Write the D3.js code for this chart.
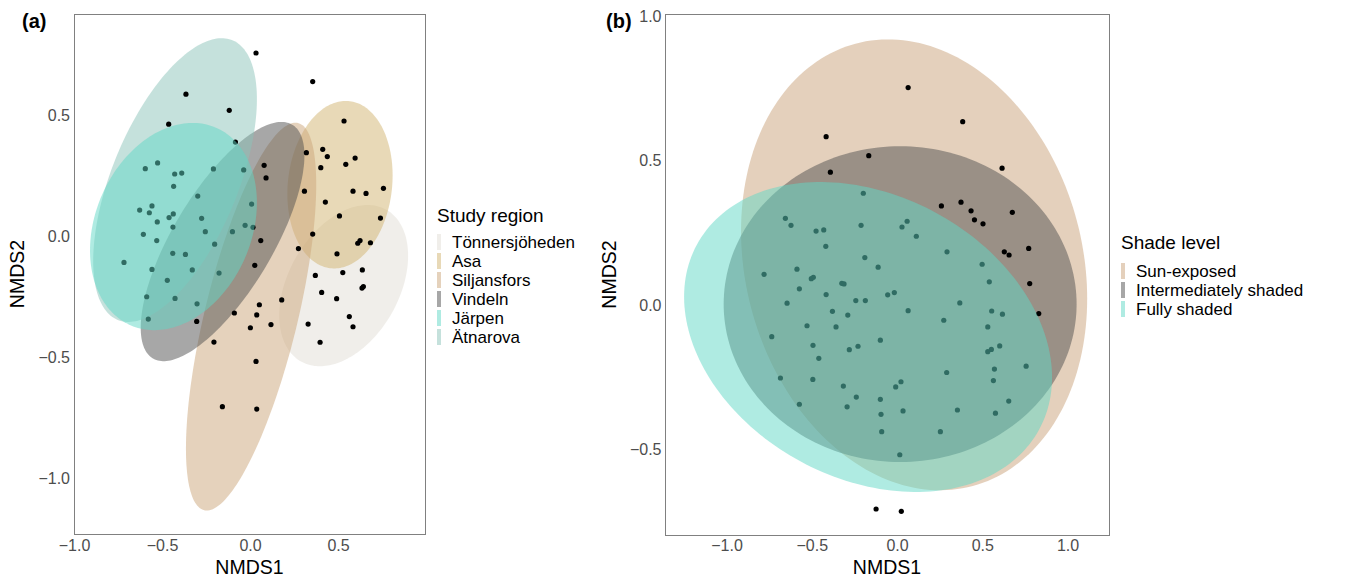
<!DOCTYPE html>
<html>
<head>
<meta charset="utf-8">
<script src="https://cdn.jsdelivr.net/npm/d3@7"></script>
<style>
  html, body { margin: 0; padding: 0; background: #fff; }
  svg { display: block; font-family: "Liberation Sans", Arial, sans-serif; }
</style>
</head>
<body>
<svg id="chart" width="1346" height="579"></svg>
<script>
// ---------------- DATA ----------------
// Panel (a): study regions
const regionNames  = ["Tönnersjöheden", "Asa", "Siljansfors", "Vindeln", "Järpen", "Ätnarova"];
const regionColors = ["#e1ddd5", "#d1b36f", "#cba579", "#505050", "#5fd8c6", "#8bc3b9"];
// ellipse parameters (data units): centre, half-extent in x / y, correlation
const regionCx = [0.532, 0.511, 0.006, -0.156, -0.435, -0.426];
const regionCy = [-0.205, 0.212, -0.333, -0.023, 0.039, 0.231];
const regionSx = [0.366, 0.299, 0.370, 0.465, 0.474, 0.465];
const regionSy = [0.333, 0.346, 0.801, 0.494, 0.428, 0.586];
const regionR  = [0.37, 0.11, 0.68, 0.72, 0.23, 0.57];

const pointsA_x = [0.034, 0.356, -0.364, -0.118, -0.462, -0.083, 0.534, 0.320, 0.413, 0.439,
  0.402, 0.544, 0.597, 0.080, 0.091, -0.595, -0.525, -0.428, -0.388, -0.208,
  -0.036, -0.434, -0.297, 0.309, 0.585, 0.659, 0.758, 0.428, 0.009, -0.627,
  -0.557, -0.572, -0.436, -0.460, -0.527, -0.438, -0.275, 0.508, 0.741, -0.606,
  -0.254, -0.100, -0.028, 0.017, 0.356, -0.530, -0.201, 0.061, 0.612, 0.625,
  0.684, 0.275, -0.439, -0.367, 0.494, -0.716, 0.027, -0.557, -0.328, -0.176,
  0.371, 0.527, 0.638, -0.470, 0.636, 0.644, 0.407, 0.492, -0.587, -0.426,
  0.180, -0.301, 0.053, -0.089, 0.038, -0.578, -0.303, 0.119, 0.002, 0.330,
  0.564, 0.585, -0.205, 0.398, 0.034, -0.157, 0.038];
const pointsA_y = [0.756, 0.638, 0.586, 0.519, 0.462, 0.388, 0.475, 0.344, 0.358, 0.328,
  0.282, 0.296, 0.322, 0.292, 0.240, 0.278, 0.302, 0.256, 0.260, 0.277,
  0.273, 0.205, 0.165, 0.185, 0.185, 0.176, 0.197, 0.140, 0.132, 0.107,
  0.124, 0.096, 0.091, 0.076, 0.058, 0.037, 0.073, 0.083, 0.074, 0.007,
  0.018, 0.018, 0.044, 0.036, 0.008, -0.019, -0.034, -0.019, -0.030, -0.019,
  -0.028, -0.052, -0.072, -0.076, -0.074, -0.109, -0.121, -0.138, -0.140, -0.153,
  -0.163, -0.151, -0.140, -0.183, -0.215, -0.209, -0.233, -0.259, -0.251, -0.258,
  -0.264, -0.280, -0.284, -0.318, -0.326, -0.343, -0.353, -0.366, -0.379, -0.364,
  -0.333, -0.375, -0.438, -0.439, -0.518, -0.705, -0.715];

// Panel (b): shade levels
const shadeNames  = ["Sun-exposed", "Intermediately shaded", "Fully shaded"];
const shadeColors = ["#c9a27a", "#505050", "#5fd8c6"];
const shadeCx = [0.100, 0.018, -0.170];
const shadeCy = [0.139, 0.003, -0.111];
const shadeSx = [1.015, 1.035, 1.079];
const shadeSy = [0.781, 0.547, 0.537];
const shadeR  = [-0.15, 0.0, -0.26];

const pointsB_x = [0.065, 0.385, -0.416, -0.166, -0.391, 0.616, -0.198, 0.260, 0.375, 0.434,
  0.454, 0.504, 0.676, -0.655, -0.622, -0.475, -0.430, -0.211, 0.029, 0.059,
  0.113, -0.418, -0.189, 0.293, 0.629, 0.657, 0.772, -0.111, -0.587, -0.780,
  0.499, -0.503, -0.491, -0.324, -0.311, 0.541, 0.778, -0.573, -0.416, -0.055,
  -0.016, -0.242, -0.186, -0.645, 0.368, 0.831, -0.379, -0.289, 0.065, 0.555,
  0.618, 0.274, -0.528, -0.358, 0.532, -0.735, -0.098, -0.493, -0.280, -0.229,
  0.532, 0.553, 0.602, -0.459, 0.291, 0.571, 0.757, -0.684, -0.494, 0.565,
  -0.315, -0.008, 0.023, -0.239, -0.098, -0.573, -0.293, 0.655, 0.354, 0.035,
  -0.094, 0.577, -0.090, 0.254, 0.016, -0.123, 0.025];
const pointsB_y = [0.753, 0.635, 0.583, 0.517, 0.460, 0.474, 0.387, 0.343, 0.356, 0.326,
  0.295, 0.281, 0.321, 0.300, 0.276, 0.256, 0.260, 0.276, 0.270, 0.290,
  0.238, 0.203, 0.164, 0.184, 0.184, 0.173, 0.196, 0.131, 0.124, 0.106,
  0.141, 0.091, 0.096, 0.075, 0.073, 0.080, 0.074, 0.056, 0.036, 0.035,
  0.043, 0.015, 0.015, 0.006, 0.007, -0.030, -0.022, -0.035, -0.020, -0.021,
  -0.032, -0.053, -0.072, -0.076, -0.076, -0.110, -0.122, -0.140, -0.155, -0.143,
  -0.162, -0.154, -0.142, -0.185, -0.234, -0.222, -0.212, -0.253, -0.258, -0.262,
  -0.281, -0.284, -0.266, -0.319, -0.327, -0.344, -0.353, -0.333, -0.364, -0.367,
  -0.379, -0.375, -0.439, -0.439, -0.519, -0.707, -0.715];

const ticksA_x = [-1.0, -0.5, 0.0, 0.5];
const ticksA_y = [-1.0, -0.5, 0.0, 0.5];
const ticksB_x = [-1.0, -0.5, 0.0, 0.5, 1.0];
const ticksB_y = [-0.5, 0.0, 0.5, 1.0];

// ---------------- DRAWING ----------------
const svg = d3.select("#chart");
const fmt = d3.format(".1f");
const FILL_ALPHA = 0.5;

function ellipsePath(xs, ys, cx, cy, sx, sy, r) {
  const s = Math.sqrt(1 - r * r);
  const pts = d3.range(0, 200).map(i => {
    const t = i / 200 * 2 * Math.PI;
    return [xs(cx + sx * Math.cos(t)), ys(cy + sy * (r * Math.cos(t) + s * Math.sin(t)))];
  });
  return d3.line().curve(d3.curveLinearClosed)(pts);
}

function panel(cfg) {
  const g = svg.append("g");
  const xs = d3.scaleLinear().domain(cfg.xDomain).range([cfg.left, cfg.right]);
  const ys = d3.scaleLinear().domain(cfg.yDomain).range([cfg.bottom, cfg.top]);
  const clipId = "clip" + cfg.id;
  svg.append("clipPath").attr("id", clipId).append("rect")
    .attr("x", cfg.left).attr("y", cfg.top)
    .attr("width", cfg.right - cfg.left).attr("height", cfg.bottom - cfg.top);
  const plot = g.append("g").attr("clip-path", `url(#${clipId})`);

  cfg.under.forEach(i => {
    plot.append("path")
      .attr("d", ellipsePath(xs, ys, cfg.cx[i], cfg.cy[i], cfg.sx[i], cfg.sy[i], cfg.r[i]))
      .attr("fill", cfg.colors[i]).attr("fill-opacity", FILL_ALPHA);
  });
  plot.append("g").selectAll("circle").data(d3.range(cfg.px.length)).join("circle")
    .attr("cx", i => xs(cfg.px[i])).attr("cy", i => ys(cfg.py[i]))
    .attr("r", 2.6).attr("fill", "#000");
  cfg.over.forEach(i => {
    plot.append("path")
      .attr("d", ellipsePath(xs, ys, cfg.cx[i], cfg.cy[i], cfg.sx[i], cfg.sy[i], cfg.r[i]))
      .attr("fill", cfg.colors[i]).attr("fill-opacity", FILL_ALPHA);
  });

  g.append("rect")
    .attr("x", cfg.left + 0.5).attr("y", cfg.top + 0.5)
    .attr("width", cfg.right - cfg.left).attr("height", cfg.bottom - cfg.top)
    .attr("fill", "none").attr("stroke", "#808080").attr("stroke-width", 1);

  const ax = g.append("g").attr("transform", `translate(0,${cfg.bottom})`)
    .call(d3.axisBottom(xs).tickValues(cfg.xTicks).tickFormat(fmt).tickSize(0).tickPadding(cfg.xPad));
  const ay = g.append("g").attr("transform", `translate(${cfg.left},0)`)
    .call(d3.axisLeft(ys).tickValues(cfg.yTicks).tickFormat(fmt).tickSize(0).tickPadding(cfg.yPad));
  [ax, ay].forEach(a => {
    a.select(".domain").remove();
    a.selectAll("text").attr("font-size", "16px").attr("fill", "#4d4d4d")
      .attr("font-family", "Liberation Sans, Arial, sans-serif");
  });

  g.append("text").attr("x", (cfg.left + cfg.right) / 2).attr("y", 574)
    .attr("text-anchor", "middle").attr("font-size", "19.5px").attr("fill", "#000").text("NMDS1");
  g.append("text")
    .attr("transform", `translate(${cfg.yTitleX},${(cfg.top + cfg.bottom) / 2}) rotate(-90)`)
    .attr("text-anchor", "middle").attr("font-size", "19.5px").attr("fill", "#000").text("NMDS2");

  g.append("text").attr("x", cfg.tagX).attr("y", 28).attr("font-size", "20px")
    .attr("font-weight", "bold").attr("fill", "#000").text(cfg.tag);

  const lg = g.append("g");
  lg.append("text").attr("x", cfg.legX).attr("y", cfg.legTitleY)
    .attr("font-size", "19px").attr("fill", "#000").text(cfg.legTitle);
  cfg.names.forEach((nm, i) => {
    const cy = cfg.legY0 + i * cfg.legStep;
    lg.append("rect").attr("x", cfg.legX).attr("y", cy - 8).attr("width", 4).attr("height", 16)
      .attr("fill", cfg.colors[i]).attr("fill-opacity", FILL_ALPHA);
    lg.append("text").attr("x", cfg.legX + 15).attr("y", cy + 6)
      .attr("font-size", "17px").attr("fill", "#000").text(nm);
  });
}

panel({
  id: "a", tag: "(a)", tagX: 22,
  left: 74, right: 425, top: 14, bottom: 534,
  xDomain: [-1.0, 0.994], yDomain: [-1.231, 0.917],
  xTicks: ticksA_x, yTicks: ticksA_y, xPad: 6, yPad: 4, yTitleX: 24,
  cx: regionCx, cy: regionCy, sx: regionSx, sy: regionSy, r: regionR,
  colors: regionColors, names: regionNames,
  under: [0, 1, 2, 3, 5], over: [4],
  px: pointsA_x, py: pointsA_y,
  legX: 437, legTitle: "Study region", legTitleY: 222, legY0: 242, legStep: 19
});

panel({
  id: "b", tag: "(b)", tagX: 606,
  left: 665, right: 1109, top: 14, bottom: 535,
  xDomain: [-1.361, 1.243], yDomain: [-0.797, 1.008],
  xTicks: ticksB_x, yTicks: ticksB_y, xPad: 5, yPad: 3.5, yTitleX: 616,
  cx: shadeCx, cy: shadeCy, sx: shadeSx, sy: shadeSy, r: shadeR,
  colors: shadeColors, names: shadeNames,
  under: [0, 1], over: [2],
  px: pointsB_x, py: pointsB_y,
  legX: 1121, legTitle: "Shade level", legTitleY: 249, legY0: 271, legStep: 19
});
</script>
</body>
</html>
